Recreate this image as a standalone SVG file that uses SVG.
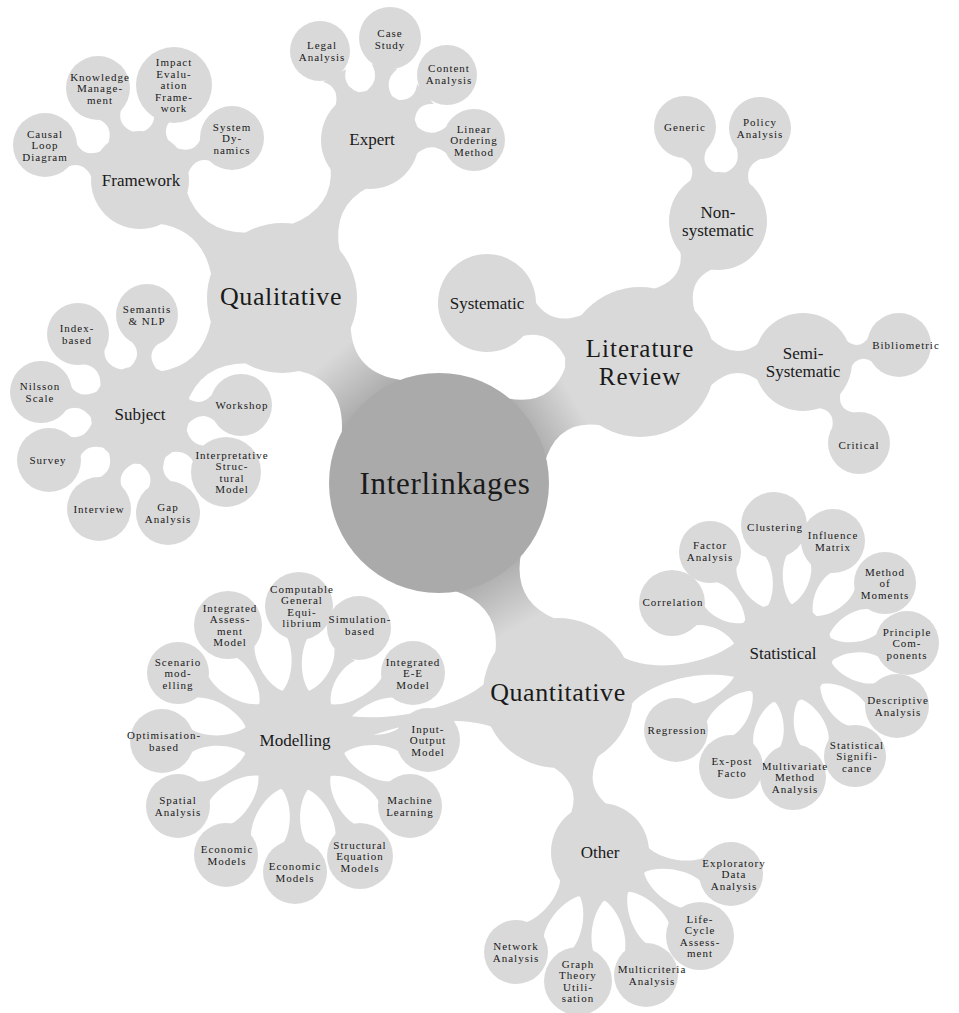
<svg xmlns="http://www.w3.org/2000/svg" width="959" height="1013" viewBox="0 0 959 1013">
<defs>
<style>
.c{fill:#d9d9d9}
.k{fill:#aaaaaa}
.b{fill:#d9d9d9}
.g{fill:url(#gc)}
text{font-family:"Liberation Serif","Times New Roman",serif;fill:#1a1a1a;text-anchor:middle;dominant-baseline:central}
.t1{font-size:31px;letter-spacing:0.7px}
.t2{font-size:26px;letter-spacing:0.6px}
.t2b{font-size:25px;letter-spacing:1px}
.t3{font-size:17px}
.t4{font-size:11px;letter-spacing:1px}
</style>
<linearGradient id="gc" x1="0" y1="0" x2="1" y2="0">
<stop offset="0" stop-color="#aaaaaa"/>
<stop offset="0.85" stop-color="#d9d9d9"/>
</linearGradient>
</defs>
<rect width="959" height="1013" fill="#ffffff"/>
<g id="connectors">
<path class="g" transform="translate(437 483) rotate(-130)" d="M100.3,-40 Q138.2,-5 176.1,-35 L176.1,35 Q138.2,5 100.3,40Z"/>
<path class="g" transform="translate(437 483) rotate(-30.8)" d="M100.3,-40 Q135.7,-5 171.1,-35 L171.1,35 Q135.7,5 100.3,40Z"/>
<path class="g" transform="translate(437 483) rotate(60.05)" d="M100.3,-40 Q138.7,-5 177.2,-35 L177.2,35 Q138.7,5 100.3,40Z"/>
<path class="b" transform="translate(282 298) rotate(-140.3)" d="M68.5,-28 Q104.8,2 143.1,-22 L143.1,22 Q104.8,-2 68.5,28Z"/>
<path class="b" transform="translate(282 298) rotate(-60.9)" d="M68.5,-28 Q104.5,2 139.4,-22 L139.4,22 Q104.5,-2 68.5,28Z"/>
<path class="b" transform="translate(282 298) rotate(140.5)" d="M68.5,-28 Q104.5,2 142.5,-22 L142.5,22 Q104.5,-2 68.5,28Z"/>
<path class="b" transform="translate(640 362) rotate(-158.9)" d="M70,-24 Q96,0 121.5,-20 L121.5,20 Q96,0 70,24Z"/>
<path class="b" transform="translate(640 362) rotate(-61.05)" d="M70,-24 Q94.6,0 118.6,-20 L118.6,20 Q94.6,0 70,24Z"/>
<path class="b" transform="translate(640 362)" d="M70,-24 Q95.5,0 120.5,-20 L120.5,20 Q95.5,0 70,24Z"/>
<path class="b" transform="translate(558 693) rotate(-10.08)" d="M70,-24 C98.4,-2 156.4,-2 186,-20 L186,20 C156.4,2 98.4,2 70,24Z"/>
<path class="b" transform="translate(558 693) rotate(169.87)" d="M70.7,-22 C107.9,-0.5 184.9,-0.5 224.7,-20 L224.7,20 C184.9,0.5 107.9,0.5 70.7,22Z"/>
<path class="b" transform="translate(558 693) rotate(75.2)" d="M70,-24 Q95.8,0 122,-20 L122,20 Q95.8,0 70,24Z"/>
<path class="b" transform="translate(140 180) rotate(-159.8)" d="M44.2,-16 Q59.6,0 73.1,-13 L73.1,13 Q59.6,0 44.2,16Z"/>
<path class="b" transform="translate(140 180) rotate(-114.5)" d="M44.2,-16 Q59.6,0 73,-13 L73,13 Q59.6,0 44.2,16Z"/>
<path class="b" transform="translate(140 180) rotate(-70.3)" d="M44.2,-16 Q57,0 72.8,-13 L72.8,13 Q57,0 44.2,16Z"/>
<path class="b" transform="translate(140 180) rotate(-24.5)" d="M44.2,-16 Q59.6,0 73,-13 L73,13 Q59.6,0 44.2,16Z"/>
<path class="b" transform="translate(370 140) rotate(-118.8)" d="M44.2,-16 Q59.3,0 73.5,-13 L73.5,13 Q59.3,0 44.2,16Z"/>
<path class="b" transform="translate(370 140) rotate(-78.8)" d="M44.2,-16 Q59.5,0 74.9,-13 L74.9,13 Q59.5,0 44.2,16Z"/>
<path class="b" transform="translate(370 140) rotate(-39.7)" d="M44.2,-16 Q58.6,0 72,-13 L72,13 Q58.6,0 44.2,16Z"/>
<path class="b" transform="translate(370 140)" d="M44.2,-16 Q60,0 75.9,-13 L75.9,13 Q60,0 44.2,16Z"/>
<path class="b" transform="translate(140 415) rotate(-86)" d="M44.2,-16 Q59.6,0 72.1,-13 L72.1,13 Q59.6,0 44.2,16Z"/>
<path class="b" transform="translate(140 415) rotate(-127.9)" d="M44.2,-16 Q60.8,0 74.5,-13 L74.5,13 Q60.8,0 44.2,16Z"/>
<path class="b" transform="translate(140 415) rotate(-167.05)" d="M44.2,-16 Q60.8,0 74.5,-13 L74.5,13 Q60.8,0 44.2,16Z"/>
<path class="b" transform="translate(140 415) rotate(153.93)" d="M44.2,-16 Q60.7,0 74.3,-13 L74.3,13 Q60.7,0 44.2,16Z"/>
<path class="b" transform="translate(140 415) rotate(113.6)" d="M44.2,-16 Q60.8,0 74.5,-13 L74.5,13 Q60.8,0 44.2,16Z"/>
<path class="b" transform="translate(140 415) rotate(74.05)" d="M44.2,-16 Q60.5,0 73.8,-13 L73.8,13 Q60.5,0 44.2,16Z"/>
<path class="b" transform="translate(140 415) rotate(33.5)" d="M44.2,-16 Q59.6,0 75.1,-13 L75.1,13 Q59.6,0 44.2,16Z"/>
<path class="b" transform="translate(140 415) rotate(-5.65)" d="M44.2,-16 Q60.3,0 73.4,-13 L73.4,13 Q60.3,0 44.2,16Z"/>
<path class="b" transform="translate(718 221) rotate(-109.35)" d="M44.2,-16 Q57.8,0 71.5,-13 L71.5,13 Q57.8,0 44.2,16Z"/>
<path class="b" transform="translate(718 221) rotate(-65.7)" d="M44.2,-16 Q59,0 73.9,-13 L73.9,13 Q59,0 44.2,16Z"/>
<path class="b" transform="translate(803 362) rotate(-10.04)" d="M44.2,-16 Q56.3,0 69.4,-13 L69.4,13 Q56.3,0 44.2,16Z"/>
<path class="b" transform="translate(803 362) rotate(55.35)" d="M44.2,-16 Q57.3,0 70.4,-13 L70.4,13 Q57.3,0 44.2,16Z"/>
<path class="b" transform="translate(783 653) rotate(-94)" d="M44.9,-14 C58.8,-2.5 86.2,-2.5 99.7,-12 L99.7,12 C86.2,2.5 58.8,2.5 44.9,14Z"/>
<path class="b" transform="translate(783 653) rotate(-125.9)" d="M44.9,-14 C58.35,-2.5 83.9,-2.5 96,-12 L96,12 C83.9,2.5 58.35,2.5 44.9,14Z"/>
<path class="b" transform="translate(783 653) rotate(-65.9)" d="M44.9,-14 C57.65,-2.5 82.25,-2.5 94.1,-12 L94.1,12 C82.25,2.5 57.65,2.5 44.9,14Z"/>
<path class="b" transform="translate(783 653) rotate(-34.45)" d="M44.9,-14 C58.15,-2.5 83.25,-2.5 95.1,-12 L95.1,12 C83.25,2.5 58.15,2.5 44.9,14Z"/>
<path class="b" transform="translate(783 653) rotate(-4.6)" d="M44.9,-14 C58.05,-2.5 83.5,-2.5 95.8,-12 L95.8,12 C83.5,2.5 58.05,2.5 44.9,14Z"/>
<path class="b" transform="translate(783 653) rotate(24.9)" d="M44.9,-14 C58.4,-2.5 84.5,-2.5 97.1,-12 L97.1,12 C84.5,2.5 58.4,2.5 44.9,14Z"/>
<path class="b" transform="translate(783 653) rotate(55.04)" d="M44.9,-14 C58.65,-2.5 84.75,-2.5 97.1,-12 L97.1,12 C84.75,2.5 58.65,2.5 44.9,14Z"/>
<path class="b" transform="translate(783 653) rotate(85.4)" d="M44.9,-14 C58.05,-2.5 83.5,-2.5 95.8,-12 L95.8,12 C83.5,2.5 58.05,2.5 44.9,14Z"/>
<path class="b" transform="translate(783 653) rotate(114.52)" d="M44.9,-14 C58.3,-2.5 84.2,-2.5 96.7,-12 L96.7,12 C84.2,2.5 58.3,2.5 44.9,14Z"/>
<path class="b" transform="translate(783 653) rotate(144.26)" d="M44.9,-14 C59.9,-2.5 89,-2.5 103.2,-12 L103.2,12 C89,2.5 59.9,2.5 44.9,14Z"/>
<path class="b" transform="translate(783 653) rotate(-155.75)" d="M44.9,-14 C57.15,-2.5 81.25,-2.5 93.1,-12 L93.1,12 C81.25,2.5 57.15,2.5 44.9,14Z"/>
<path class="b" transform="translate(295 740) rotate(-88.7)" d="M48,-14 C62,-2.5 90.7,-2.5 105.4,-12 L105.4,12 C90.7,2.5 62,2.5 48,14Z"/>
<path class="b" transform="translate(295 740) rotate(-119.5)" d="M48,-14 C61.8,-2.5 89.55,-2.5 103.5,-12 L103.5,12 C89.55,2.5 61.8,2.5 48,14Z"/>
<path class="b" transform="translate(295 740) rotate(-59.8)" d="M48,-14 C60.8,-2.5 86.15,-2.5 98.7,-12 L98.7,12 C86.15,2.5 60.8,2.5 48,14Z"/>
<path class="b" transform="translate(295 740) rotate(-29.6)" d="M48,-14 C62.9,-2.5 92.45,-2.5 107.1,-12 L107.1,12 C92.45,2.5 62.9,2.5 48,14Z"/>
<path class="b" transform="translate(295 740)" d="M48,-14 C62.25,-2.5 90.45,-2.5 104.4,-12 L104.4,12 C90.45,2.5 62.25,2.5 48,14Z"/>
<path class="b" transform="translate(295 740) rotate(29.85)" d="M48,-14 C62.15,-2.5 90.15,-2.5 104,-12 L104,12 C90.15,2.5 62.15,2.5 48,14Z"/>
<path class="b" transform="translate(295 740) rotate(60.74)" d="M48,-14 C62,-2.5 90.2,-2.5 104.4,-12 L104.4,12 C90.2,2.5 62,2.5 48,14Z"/>
<path class="b" transform="translate(295 740) rotate(90)" d="M48,-14 C62,-2.5 89.7,-2.5 103.4,-12 L103.4,12 C89.7,2.5 62,2.5 48,14Z"/>
<path class="b" transform="translate(295 740) rotate(120.96)" d="M48,-14 C62.5,-2.5 91.25,-2.5 105.5,-12 L105.5,12 C91.25,2.5 62.5,2.5 48,14Z"/>
<path class="b" transform="translate(295 740) rotate(150.57)" d="M48,-14 C62.6,-2.5 91.45,-2.5 105.7,-12 L105.7,12 C91.45,2.5 62.6,2.5 48,14Z"/>
<path class="b" transform="translate(295 740) rotate(179.6)" d="M48,-14 C62.25,-2.5 90.45,-2.5 104.4,-12 L104.4,12 C90.45,2.5 62.25,2.5 48,14Z"/>
<path class="b" transform="translate(295 740) rotate(-150.2)" d="M48,-14 C62.7,-2.5 91.8,-2.5 106.2,-12 L106.2,12 C91.8,2.5 62.7,2.5 48,14Z"/>
<path class="b" transform="translate(600 852) rotate(9.53)" d="M44.9,-14 C59.65,-2.5 89.3,-2.5 104.2,-12 L104.2,12 C89.3,2.5 59.65,2.5 44.9,14Z"/>
<path class="b" transform="translate(600 852) rotate(40.03)" d="M44.9,-14 C58.6,-2.5 87.15,-2.5 102,-12 L102,12 C87.15,2.5 58.6,2.5 44.9,14Z"/>
<path class="b" transform="translate(600 852) rotate(69.5)" d="M44.9,-14 C59.3,-2.5 88.2,-2.5 102.7,-12 L102.7,12 C88.2,2.5 59.3,2.5 44.9,14Z"/>
<path class="b" transform="translate(600 852) rotate(99.68)" d="M44.9,-14 C58.7,-2.5 87.4,-2.5 102.3,-12 L102.3,12 C87.4,2.5 58.7,2.5 44.9,14Z"/>
<path class="b" transform="translate(600 852) rotate(130.03)" d="M44.9,-14 C59.1,-2.5 87.65,-2.5 102,-12 L102,12 C87.65,2.5 59.1,2.5 44.9,14Z"/>
</g>

<g id="interlinkages"><circle class="k" cx="439" cy="483" r="110"/><text class="t1" x="445" y="483">Interlinkages</text></g>

<g id="qualitative"><circle class="c" cx="282" cy="298" r="75"/><text class="t2" x="281" y="296">Qualitative</text></g>
<g id="literature-review"><circle class="c" cx="640" cy="362" r="75"/><text class="t2b" x="640" y="348"><tspan x="640" y="348">Literature</tspan><tspan x="640" y="376">Review</tspan></text></g>
<g id="quantitative"><circle class="c" cx="558" cy="693" r="75"/><text class="t2" x="558" y="692">Quantitative</text></g>

<g id="framework"><circle class="c" cx="140" cy="180" r="49"/><text class="t3" x="141" y="180">Framework</text></g>
<g id="expert"><circle class="c" cx="370" cy="140" r="49"/><text class="t3" x="372" y="139">Expert</text></g>
<g id="subject"><circle class="c" cx="140" cy="415" r="49"/><text class="t3" x="140" y="414">Subject</text></g>
<g id="systematic"><circle class="c" cx="487" cy="303" r="49"/><text class="t3" x="487" y="303">Systematic</text></g>
<g id="non-systematic"><circle class="c" cx="718" cy="221" r="49"/><text class="t3" x="718" y="212"><tspan x="718" y="212">Non-</tspan><tspan x="718" y="230">systematic</tspan></text></g>
<g id="semi-systematic"><circle class="c" cx="803" cy="362" r="49"/><text class="t3" x="803" y="353"><tspan x="803" y="353">Semi-</tspan><tspan x="803" y="371">Systematic</tspan></text></g>
<g id="statistical"><circle class="c" cx="783" cy="653" r="50"/><text class="t3" x="783" y="653">Statistical</text></g>
<g id="modelling"><circle class="c" cx="295" cy="740" r="51"/><text class="t3" x="295" y="740">Modelling</text></g>
<g id="other"><circle class="c" cx="600" cy="852" r="49"/><text class="t3" x="600" y="852">Other</text></g>

<g id="causal-loop-diagram"><circle class="c" cx="45" cy="145" r="32"/><text class="t4" x="45" y="145"><tspan x="45" y="133.5">Causal</tspan><tspan x="45" y="145">Loop</tspan><tspan x="45" y="156.5">Diagram</tspan></text></g>
<g id="knowledge-management"><circle class="c" cx="98" cy="88" r="32"/><text class="t4" x="100" y="88"><tspan x="100" y="76.5">Knowledge</tspan><tspan x="100" y="88">Manage-</tspan><tspan x="100" y="99.5">ment</tspan></text></g>
<g id="impact-evaluation-framework"><circle class="c" cx="174" cy="85" r="38"/><text class="t4" x="174" y="85"><tspan x="174" y="62">Impact</tspan><tspan x="174" y="73.5">Evalu-</tspan><tspan x="174" y="85">ation</tspan><tspan x="174" y="96.5">Frame-</tspan><tspan x="174" y="108">work</tspan></text></g>
<g id="system-dynamics"><circle class="c" cx="232" cy="138" r="32"/><text class="t4" x="232" y="138"><tspan x="232" y="126.5">System</tspan><tspan x="232" y="138">Dy-</tspan><tspan x="232" y="149.5">namics</tspan></text></g>

<g id="legal-analysis"><circle class="c" cx="320" cy="51" r="30"/><text class="t4" x="322" y="51"><tspan x="322" y="45.25">Legal</tspan><tspan x="322" y="56.75">Analysis</tspan></text></g>
<g id="case-study"><circle class="c" cx="390" cy="38" r="31"/><text class="t4" x="390" y="39"><tspan x="390" y="33.25">Case</tspan><tspan x="390" y="44.75">Study</tspan></text></g>
<g id="content-analysis"><circle class="c" cx="447" cy="75" r="30"/><text class="t4" x="449" y="74"><tspan x="449" y="68.25">Content</tspan><tspan x="449" y="79.75">Analysis</tspan></text></g>
<g id="linear-ordering-method"><circle class="c" cx="474" cy="140" r="31"/><text class="t4" x="474" y="140"><tspan x="474" y="128.5">Linear</tspan><tspan x="474" y="140">Ordering</tspan><tspan x="474" y="151.5">Method</tspan></text></g>

<g id="semantis-nlp"><circle class="c" cx="147" cy="315" r="31"/><text class="t4" x="147" y="315"><tspan x="147" y="309.25">Semantis</tspan><tspan x="147" y="320.75">&amp; NLP</tspan></text></g>
<g id="index-based"><circle class="c" cx="78" cy="334" r="31"/><text class="t4" x="77" y="334"><tspan x="77" y="328.25">Index-</tspan><tspan x="77" y="339.75">based</tspan></text></g>
<g id="nilsson-scale"><circle class="c" cx="41" cy="392" r="31"/><text class="t4" x="40" y="392"><tspan x="40" y="386.25">Nilsson</tspan><tspan x="40" y="397.75">Scale</tspan></text></g>
<g id="survey"><circle class="c" cx="49" cy="460" r="32"/><text class="t4" x="48" y="460">Survey</text></g>
<g id="interview"><circle class="c" cx="99" cy="509" r="32"/><text class="t4" x="99" y="509">Interview</text></g>
<g id="gap-analysis"><circle class="c" cx="168" cy="513" r="32"/><text class="t4" x="168" y="513"><tspan x="168" y="507.25">Gap</tspan><tspan x="168" y="518.75">Analysis</tspan></text></g>
<g id="interpretative-structural-model"><circle class="c" cx="226" cy="472" r="35"/><text class="t4" x="232" y="472"><tspan x="232" y="454.75">Interpretative</tspan><tspan x="232" y="466.25">Struc-</tspan><tspan x="232" y="477.75">tural</tspan><tspan x="232" y="489.25">Model</tspan></text></g>
<g id="workshop"><circle class="c" cx="241" cy="405" r="31"/><text class="t4" x="242" y="405">Workshop</text></g>

<g id="generic"><circle class="c" cx="685" cy="127" r="31"/><text class="t4" x="685" y="127">Generic</text></g>
<g id="policy-analysis"><circle class="c" cx="760" cy="128" r="31"/><text class="t4" x="760" y="128"><tspan x="760" y="122.25">Policy</tspan><tspan x="760" y="133.75">Analysis</tspan></text></g>
<g id="bibliometric"><circle class="c" cx="899" cy="345" r="32"/><text class="t4" x="906" y="345">Bibliometric</text></g>
<g id="critical"><circle class="c" cx="859" cy="443" r="31"/><text class="t4" x="859" y="445">Critical</text></g>

<g id="clustering"><circle class="c" cx="774" cy="525" r="33"/><text class="t4" x="775" y="527">Clustering</text></g>
<g id="factor-analysis"><circle class="c" cx="710" cy="552" r="31"/><text class="t4" x="710" y="551"><tspan x="710" y="545.25">Factor</tspan><tspan x="710" y="556.75">Analysis</tspan></text></g>
<g id="influence-matrix"><circle class="c" cx="833" cy="541" r="32"/><text class="t4" x="833" y="541"><tspan x="833" y="535.25">Influence</tspan><tspan x="833" y="546.75">Matrix</tspan></text></g>
<g id="method-of-moments"><circle class="c" cx="885" cy="583" r="31"/><text class="t4" x="885" y="583"><tspan x="885" y="571.5">Method</tspan><tspan x="885" y="583">of</tspan><tspan x="885" y="594.5">Moments</tspan></text></g>
<g id="principle-components"><circle class="c" cx="907" cy="643" r="32"/><text class="t4" x="907" y="643"><tspan x="907" y="631.5">Principle</tspan><tspan x="907" y="643">Com-</tspan><tspan x="907" y="654.5">ponents</tspan></text></g>
<g id="descriptive-analysis"><circle class="c" cx="897" cy="706" r="32"/><text class="t4" x="898" y="706"><tspan x="898" y="700.25">Descriptive</tspan><tspan x="898" y="711.75">Analysis</tspan></text></g>
<g id="statistical-significance"><circle class="c" cx="855" cy="756" r="31"/><text class="t4" x="857" y="756"><tspan x="857" y="744.5">Statistical</tspan><tspan x="857" y="756">Signifi-</tspan><tspan x="857" y="767.5">cance</tspan></text></g>
<g id="multivariate-method-analysis"><circle class="c" cx="793" cy="777" r="33"/><text class="t4" x="795" y="777"><tspan x="795" y="765.5">Multivariate</tspan><tspan x="795" y="777">Method</tspan><tspan x="795" y="788.5">Analysis</tspan></text></g>
<g id="ex-post-facto"><circle class="c" cx="731" cy="767" r="32"/><text class="t4" x="732" y="767"><tspan x="732" y="761.25">Ex-post</tspan><tspan x="732" y="772.75">Facto</tspan></text></g>
<g id="regression"><circle class="c" cx="676" cy="730" r="32"/><text class="t4" x="677" y="730">Regression</text></g>
<g id="correlation"><circle class="c" cx="672" cy="603" r="33"/><text class="t4" x="673" y="602">Correlation</text></g>

<g id="computable-general-equilibrium"><circle class="c" cx="299" cy="606" r="34"/><text class="t4" x="302" y="606"><tspan x="302" y="588.75">Computable</tspan><tspan x="302" y="600.25">General</tspan><tspan x="302" y="611.75">Equi-</tspan><tspan x="302" y="623.25">librium</tspan></text></g>
<g id="integrated-assessment-model"><circle class="c" cx="228" cy="625" r="34"/><text class="t4" x="230" y="625"><tspan x="230" y="607.75">Integrated</tspan><tspan x="230" y="619.25">Assess-</tspan><tspan x="230" y="630.75">ment</tspan><tspan x="230" y="642.25">Model</tspan></text></g>
<g id="simulation-based"><circle class="c" cx="359" cy="628" r="32"/><text class="t4" x="360" y="625"><tspan x="360" y="619.25">Simulation-</tspan><tspan x="360" y="630.75">based</tspan></text></g>
<g id="integrated-e-e-model"><circle class="c" cx="413" cy="673" r="32"/><text class="t4" x="413" y="673"><tspan x="413" y="661.5">Integrated</tspan><tspan x="413" y="673">E-E</tspan><tspan x="413" y="684.5">Model</tspan></text></g>
<g id="input-output-model"><circle class="c" cx="428" cy="740" r="32"/><text class="t4" x="428" y="740"><tspan x="428" y="728.5">Input-</tspan><tspan x="428" y="740">Output</tspan><tspan x="428" y="751.5">Model</tspan></text></g>
<g id="machine-learning"><circle class="c" cx="410" cy="806" r="32"/><text class="t4" x="410" y="806"><tspan x="410" y="800.25">Machine</tspan><tspan x="410" y="811.75">Learning</tspan></text></g>
<g id="structural-equation-models"><circle class="c" cx="360" cy="856" r="33"/><text class="t4" x="360" y="856"><tspan x="360" y="844.5">Structural</tspan><tspan x="360" y="856">Equation</tspan><tspan x="360" y="867.5">Models</tspan></text></g>
<g id="economic-models-2"><circle class="c" cx="295" cy="872" r="32"/><text class="t4" x="295" y="872"><tspan x="295" y="866.25">Economic</tspan><tspan x="295" y="877.75">Models</tspan></text></g>
<g id="economic-models-1"><circle class="c" cx="226" cy="855" r="32"/><text class="t4" x="227" y="855"><tspan x="227" y="849.25">Economic</tspan><tspan x="227" y="860.75">Models</tspan></text></g>
<g id="spatial-analysis"><circle class="c" cx="178" cy="806" r="32"/><text class="t4" x="178" y="806"><tspan x="178" y="800.25">Spatial</tspan><tspan x="178" y="811.75">Analysis</tspan></text></g>
<g id="optimisation-based"><circle class="c" cx="162" cy="741" r="32"/><text class="t4" x="164" y="741"><tspan x="164" y="735.25">Optimisation-</tspan><tspan x="164" y="746.75">based</tspan></text></g>
<g id="scenario-modelling"><circle class="c" cx="178" cy="673" r="31"/><text class="t4" x="178" y="673"><tspan x="178" y="661.5">Scenario</tspan><tspan x="178" y="673">mod-</tspan><tspan x="178" y="684.5">elling</tspan></text></g>

<g id="exploratory-data-analysis"><circle class="c" cx="731" cy="874" r="32"/><text class="t4" x="734" y="874"><tspan x="734" y="862.5">Exploratory</tspan><tspan x="734" y="874">Data</tspan><tspan x="734" y="885.5">Analysis</tspan></text></g>
<g id="life-cycle-assessment"><circle class="c" cx="700" cy="936" r="34"/><text class="t4" x="700" y="936"><tspan x="700" y="918.75">Life-</tspan><tspan x="700" y="930.25">Cycle</tspan><tspan x="700" y="941.75">Assess-</tspan><tspan x="700" y="953.25">ment</tspan></text></g>
<g id="multicriteria-analysis"><circle class="c" cx="646" cy="975" r="32"/><text class="t4" x="652" y="975"><tspan x="652" y="969.25">Multicriteria</tspan><tspan x="652" y="980.75">Analysis</tspan></text></g>
<g id="graph-theory-utilisation"><circle class="c" cx="578" cy="981" r="34"/><text class="t4" x="578" y="981"><tspan x="578" y="963.75">Graph</tspan><tspan x="578" y="975.25">Theory</tspan><tspan x="578" y="986.75">Utili-</tspan><tspan x="578" y="998.25">sation</tspan></text></g>
<g id="network-analysis"><circle class="c" cx="516" cy="952" r="32"/><text class="t4" x="516" y="952"><tspan x="516" y="946.25">Network</tspan><tspan x="516" y="957.75">Analysis</tspan></text></g>
</svg>
